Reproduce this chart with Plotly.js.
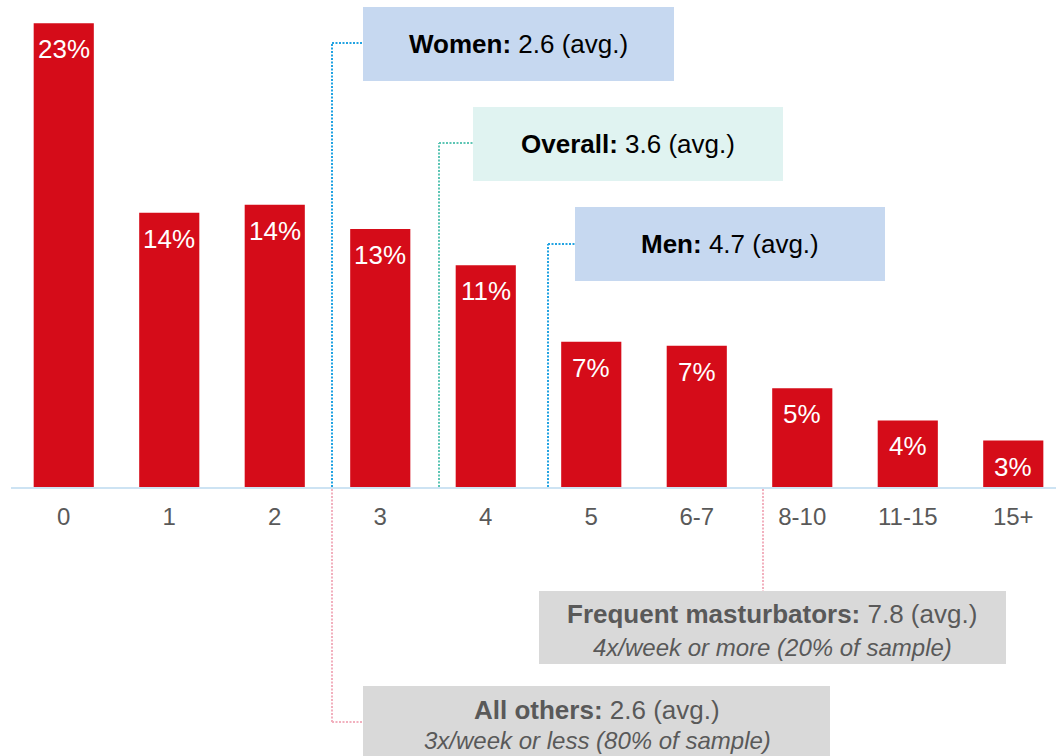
<!DOCTYPE html>
<html>
<head>
<meta charset="utf-8">
<script src="https://cdn.plot.ly/plotly-3.0.1.min.js"></script>
<style>
  html, body { margin: 0; padding: 0; background: #fff; }
  #chart { width: 1056px; height: 756px; }
</style>
</head>
<body>
<div id="chart"></div>
<script>
// times per week (categories) and share of respondents
var categories = ['0', '1', '2', '3', '4', '5', '6-7', '8-10', '11-15', '15+'];
var shares = [23.0, 13.6, 14.0, 12.8, 11.0, 7.2, 7.0, 4.9, 3.3, 2.3];
var shareLabels = ['23%', '14%', '14%', '13%', '11%', '7%', '7%', '5%', '4%', '3%'];

var font = 'Liberation Sans, Arial, sans-serif';
var W = 1056, H = 756, L = 11, B = 269;
var plotW = W - L, plotH = H - B;

// pixel -> paper helpers for the callouts
function px(x) { return (x - L) / plotW; }
function py(y) { return (plotH - y) / plotH; }

function line(x0, y0, x1, y1, color) {
    return {type: 'line', xref: 'paper', yref: 'paper',
        x0: px(x0), y0: py(y0), x1: px(x1), y1: py(y1),
        line: {color: color, width: 2, dash: '2px,1.5px'}};
}
function box(x0, y0, x1, y1, color) {
    return {type: 'rect', xref: 'paper', yref: 'paper', layer: 'below',
        x0: px(x0), y0: py(y0), x1: px(x1), y1: py(y1),
        fillcolor: color, line: {width: 0}};
}
function label(x, y, text, color, size) {
    return {xref: 'paper', yref: 'paper', x: px(x), y: py(y),
        xanchor: 'center', yanchor: 'middle', showarrow: false,
        text: text, font: {family: font, size: size || 26, color: color}};
}

var blue = '#22a3e2', teal = '#5cc5b4', pink = '#f2b0be';

var shapes = [
    box(363, 7, 674, 81, '#c6d8f0'),
    box(473, 107, 783, 181, '#e0f3f1'),
    box(575, 207, 885, 281, '#c6d8f0'),
    box(539, 591, 1006, 664, '#d9d9d9'),
    box(363, 686, 830, 760, '#d9d9d9'),
    line(332, 487, 332, 43, blue), line(332, 43, 363, 43, blue),
    line(439, 487, 439, 143, teal), line(439, 143, 473, 143, teal),
    line(548, 487, 548, 244, blue), line(548, 244, 575, 244, blue),
    line(763, 489, 763, 591, pink),
    line(332, 489, 332, 722, pink), line(332, 722, 363, 722, pink)
];

var annotations = [
    label(518, 44, '<b>Women:</b> 2.6 (avg.)', '#000'),
    label(628, 144, '<b>Overall:</b> 3.6 (avg.)', '#000'),
    label(730, 244, '<b>Men:</b> 4.7 (avg.)', '#000'),
    label(772, 614, '<b>Frequent masturbators:</b> 7.8 (avg.)', '#595959'),
    label(772, 647, '<i>4x/week or more (20% of sample)</i>', '#595959', 24),
    label(597, 710, '<b>All others:</b> 2.6 (avg.)', '#595959'),
    label(597, 740, '<i>3x/week or less (80% of sample)</i>', '#595959', 24)
];

// value labels inside the top of each bar
for (let i = 0; i < categories.length; i++) {
    annotations.push({
        x: categories[i], y: shares[i], xref: 'x', yref: 'y',
        yshift: -26, yanchor: 'middle', showarrow: false,
        text: shareLabels[i], font: {family: font, size: 26, color: '#fff'}
    });
}

var data = [{
    type: 'bar',
    x: categories,
    y: shares,
    marker: {color: '#d50c19'},
    hoverinfo: 'none'
}];

var layout = {
    width: W,
    height: H,
    margin: {l: L, r: 0, t: 0, b: B},
    paper_bgcolor: '#fff',
    plot_bgcolor: '#fff',
    showlegend: false,
    bargap: 0.43,
    font: {family: font},
    xaxis: {
        type: 'category',
        range: [-0.5, 9.405],
        showline: true,
        linecolor: '#cde3f3',
        linewidth: 2,
        showgrid: false,
        zeroline: false,
        ticks: '',
        tickfont: {family: font, size: 24, color: '#595959'},
        ticklabelstandoff: 7
    },
    yaxis: {
        range: [0, 24.15],
        visible: false,
        fixedrange: true
    },
    shapes: shapes,
    annotations: annotations
};

Plotly.newPlot('chart', data, layout, {staticPlot: true});
</script>
</body>
</html>
